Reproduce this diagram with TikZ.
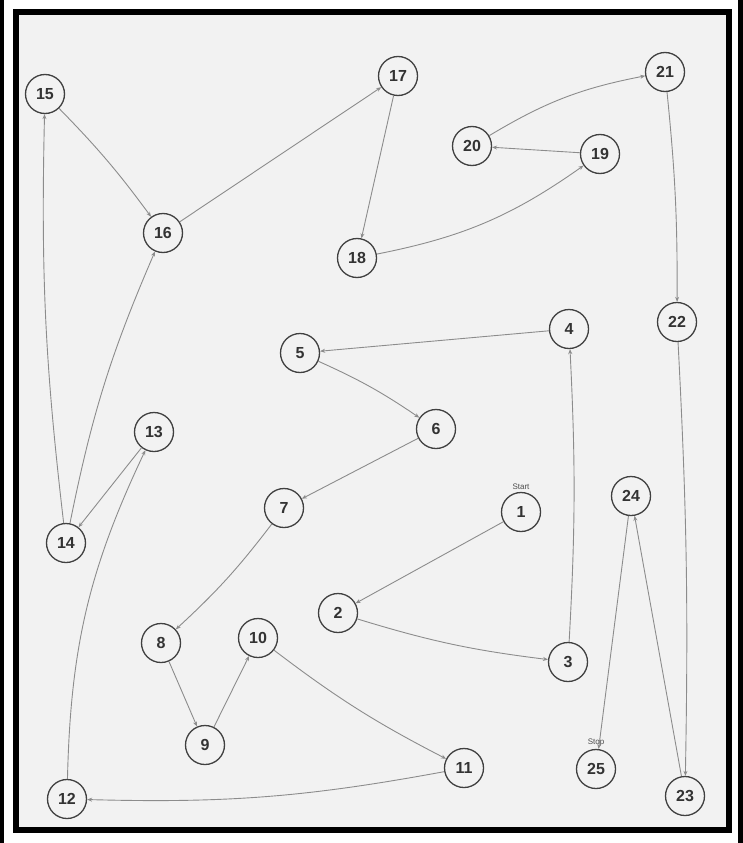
\documentclass[tikz,border=0pt]{standalone}
\usepackage{fontspec}
\setmainfont{Liberation Sans}
\usetikzlibrary{arrows.meta}
\definecolor{paper}{HTML}{F2F2F2}
\definecolor{pen}{HTML}{8C8C8C}

\begin{document}
\begin{tikzpicture}[x=1pt,y=-1pt,
  stn/.style={circle,draw=black!75,line width=1.3pt,fill=paper,minimum size=39pt,inner sep=0pt,font=\fontsize{16}{18}\selectfont\bfseries,text=black!80},
  hop/.style={draw=pen,line width=.9pt,-{Stealth[length=5pt,width=4pt]}},
  tag/.style={font=\fontsize{8}{9}\selectfont,text=black!70}]
\useasboundingbox(0,0)rectangle(743,843);
\fill[white](0,0)rectangle(743,843);
\fill[black](0,0)rectangle(4,843);
\fill[black](738,0)rectangle(743,843);
\draw[line width=6pt,fill=paper](16,12)rectangle(729,830);
% stations
\foreach \n/\x/\y in {1/521/512,2/338/613,3/568/662,4/569/329,5/300/353,6/436/429,7/284/508,
  8/161/643,9/205/745,10/258/638,11/464/768,12/67/799,13/154/432,14/66/543,15/45/94,
  16/163/233,17/398/76,18/357/258,19/600/154,20/472/146,21/665/72,22/677/322,23/685/796,
  24/631/496,25/596/769}
  \node[stn](s\n)at(\x,\y){\n};
\node[tag,anchor=south]at([yshift=-1pt]s1.north){Start};
\node[tag,anchor=south]at([yshift=-1pt]s25.north){Stop};
% route
\draw[hop](s1)--(s2);
\draw[hop](s2)to[bend right=5](s3);
\draw[hop](s3)to[bend right=3](s4);
\draw[hop](s4)--(s5);
\draw[hop](s5)to[bend left=5](s6);
\draw[hop](s6)--(s7);
\draw[hop](s7)to[bend left=5](s8);
\draw[hop](s8)--(s9);
\draw[hop](s9)--(s10);
\draw[hop](s10)to[bend right=5](s11);
\draw[hop](s11)to[bend left=6](s12);
\draw[hop](s12)to[bend left=12](s13);
\draw[hop](s13)--(s14);
\draw[hop](s14)to[bend left=4](s15);
\draw[hop](s15)to[bend left=4](s16);
\draw[hop](s14)to[bend left=6](s16);
\draw[hop](s16)--(s17);
\draw[hop](s17)--(s18);
\draw[hop](s18)to[bend right=12](s19);
\draw[hop](s19)--(s20);
\draw[hop](s20)to[bend left=10](s21);
\draw[hop](s21)to[bend left=3](s22);
\draw[hop](s22)to[bend left=2](s23);
\draw[hop](s23)--(s24);
\draw[hop](s24)--(s25);
\end{tikzpicture}
\end{document}
